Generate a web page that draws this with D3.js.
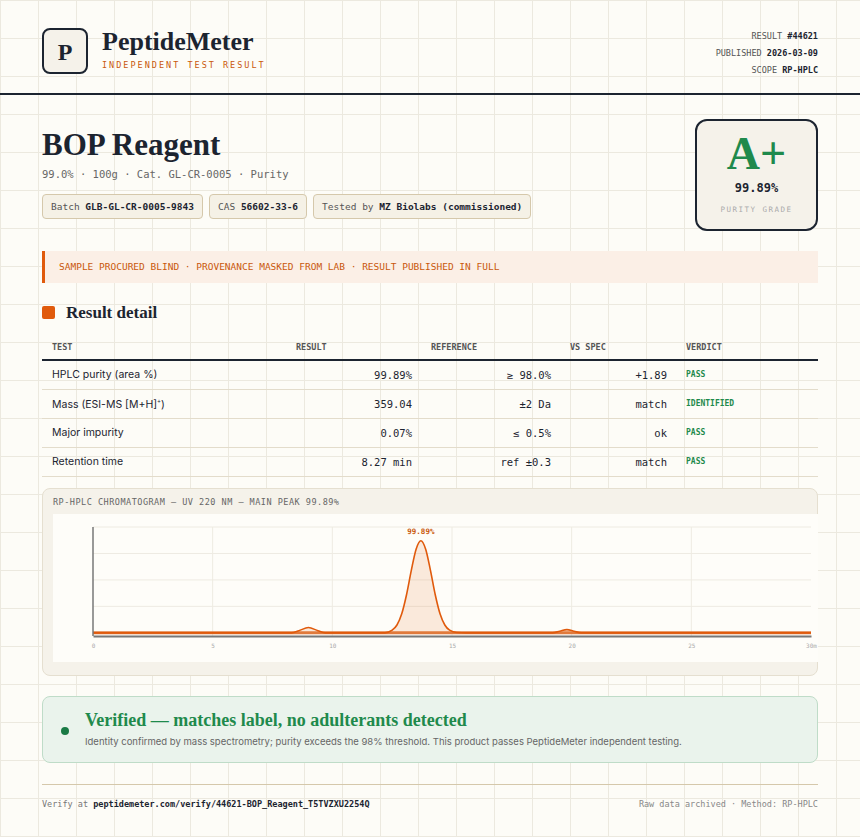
<!DOCTYPE html>
<html><head><meta charset="utf-8">
<script src="https://cdn.jsdelivr.net/npm/d3@7/dist/d3.min.js"></script>
<style>
body{margin:0;width:860px;height:837px;overflow:hidden;background:#fdfcf7;
 background-image:linear-gradient(#ece9df 1px,transparent 1px),linear-gradient(90deg,#ece9df 1px,transparent 1px);
 background-size:38px 38px;background-position:0 0;font-family:Inter,sans-serif;color:#1c2430;position:relative}
.abs{position:absolute}
.mono{font-family:"DejaVu Sans Mono",monospace}
.serif{font-family:"Liberation Serif",serif}
.logo{left:42px;top:28px;width:42px;height:42px;border:2px solid #1c2430;border-radius:8px;background:#f5f2ea;text-align:center;line-height:44px;font-size:24px;font-weight:bold}
.chip{display:inline-block;border:1px solid #d5c8ab;border-radius:4px;background:#f5f1e6;padding:6px 8px;font-size:9.5px;color:#555;margin-right:6px}
.chip b{color:#1c2430}
table{border-collapse:collapse;table-layout:fixed}
th,td{box-sizing:border-box}
th{font-family:"DejaVu Sans Mono",monospace;font-size:8.5px;font-weight:bold;color:#555;text-align:left;height:26px;padding:0 0 0 10px;border-bottom:2px solid #1c2430}
td{height:29px;border-bottom:1px solid #e3dccb;font-size:10.5px;padding:0 0 0 10px}
td.n{font-family:"DejaVu Sans Mono",monospace;text-align:right;padding-right:9px}
td.v{font-family:"DejaVu Sans Mono",monospace;font-size:8px;font-weight:bold;color:#1f8a4c}
</style></head><body>
<div class="abs logo serif">P</div>
<div class="abs serif" style="left:102px;top:27px;font-size:26px;font-weight:bold">PeptideMeter</div>
<div class="abs mono" style="left:102px;top:60px;font-size:8.5px;letter-spacing:2px;color:#c9580c">INDEPENDENT TEST RESULT</div>
<div class="abs mono" style="right:42px;top:28px;font-size:8.5px;line-height:17px;text-align:right;color:#555">
RESULT <b style="color:#1c2430">#44621</b><br>PUBLISHED <b style="color:#1c2430">2026-03-09</b><br>SCOPE <b style="color:#1c2430">RP-HPLC</b></div>
<div class="abs" style="left:0;top:93px;width:860px;height:2px;background:#1c2430"></div>
<div class="abs serif" style="left:42px;top:127px;font-size:31px;font-weight:bold">BOP Reagent</div>
<div class="abs mono" style="left:42px;top:168px;font-size:10.5px;color:#666">99.0% · 100g · Cat. GL-CR-0005 · Purity</div>
<div class="abs mono" style="left:42px;top:194px">
<span class="chip">Batch <b>GLB-GL-CR-0005-9843</b></span><span class="chip">CAS <b>56602-33-6</b></span><span class="chip">Tested by <b>MZ Biolabs (commissioned)</b></span></div>
<div class="abs" style="left:695px;top:119px;width:119px;height:108px;border:2px solid #1c2430;border-radius:12px;background:#f5f2ea;text-align:center">
<div class="serif" style="font-size:46px;font-weight:bold;color:#1f8a4c;margin-top:10px;line-height:46px">A+</div>
<div class="mono" style="font-size:12px;font-weight:bold;margin-top:4px">99.89%</div>
<div class="mono" style="font-size:7.5px;color:#aaa;letter-spacing:1.5px;margin-top:10px">PURITY GRADE</div></div>
<div class="abs mono" style="left:42px;top:251px;height:32px;border-left:3px solid #e05a0c;background:#fbefe6;color:#c9580c;font-size:9.5px;line-height:32px;padding-left:14px;box-sizing:border-box;width:776px">SAMPLE PROCURED BLIND · PROVENANCE MASKED FROM LAB · RESULT PUBLISHED IN FULL</div>
<div class="abs" style="left:42px;top:306px;width:13px;height:13px;border-radius:2px;background:#e05a0c"></div>
<div class="abs serif" style="left:66px;top:303px;font-size:17px;font-weight:bold">Result detail</div>
<table class="abs" id="tbl" style="left:42px;top:334px;width:776px"></table>
<div class="abs" style="left:42px;top:488px;width:774px;height:186px;border:1px solid #e5dfd0;border-radius:8px;background:#f5f2ea"></div>
<div class="abs mono" style="left:53px;top:497px;font-size:8.5px;color:#666;letter-spacing:0.5px">RP-HPLC CHROMATOGRAM — UV 220 NM — MAIN PEAK 99.89%</div>
<svg class="abs" id="chart" style="left:53px;top:514px" width="765" height="148"></svg>
<div class="abs" style="left:42px;top:696px;width:774px;height:65px;border:1px solid #bfdcc8;border-radius:8px;background:#eaf3ec"></div>
<div class="abs" style="left:61px;top:727px;width:8px;height:8px;border-radius:50%;background:#1a7a45"></div>
<div class="abs serif" style="left:85px;top:710px;font-size:18px;font-weight:bold;color:#1f8a4c">Verified — matches label, no adulterants detected</div>
<div class="abs" style="left:85px;top:736px;font-size:9.5px;color:#666">Identity confirmed by mass spectrometry; purity exceeds the 98% threshold. This product passes PeptideMeter independent testing.</div>
<div class="abs" style="left:42px;top:784px;width:776px;height:1px;background:#d5c8ab"></div>
<div class="abs mono" style="left:42px;top:799px;font-size:8.5px;color:#777">Verify at <b style="color:#1c2430">peptidemeter.com/verify/44621-BOP_Reagent_T5TVZXU2254Q</b></div>
<div class="abs mono" style="right:42px;top:799px;font-size:8.5px;color:#888">Raw data archived · Method: RP-HPLC</div>
<script>
const headers = ['TEST','RESULT','REFERENCE','VS SPEC','VERDICT']
const tests = ['HPLC purity (area %)','Mass (ESI-MS [M+H]<sup style="font-size:6px">+</sup>)','Major impurity','Retention time']
const results = ['99.89%','359.04','0.07%','8.27 min']
const refs = ['≥ 98.0%','±2 Da','≤ 0.5%','ref ±0.3']
const vsSpec = ['+1.89','match','ok','match']
const verdicts = ['PASS','IDENTIFIED','PASS','PASS']
const colW = [244,135,139,116,142]

const tbl = d3.select('#tbl')
tbl.append('tr').selectAll('th').data(headers).join('th').style('width',(d,i)=>colW[i]+'px').text(d=>d)
tests.forEach((t,i)=>{
  const tr = tbl.append('tr')
  tr.append('td').html(t)
  tr.append('td').attr('class','n').text(results[i])
  tr.append('td').attr('class','n').text(refs[i])
  tr.append('td').attr('class','n').text(vsSpec[i])
  tr.append('td').attr('class','v').text(verdicts[i])
})

// chromatogram samples (minutes, signal)
const times = [0,8.3,8.6,9.0,9.4,9.7,12.2,12.5,12.7,12.9,13.1,13.3,13.5,13.7,13.9,14.1,14.3,14.5,14.7,14.9,15.2,15.6,19.2,19.5,19.8,20.1,20.4,30]
const signal = [0,0,2,5,2,0,0,2.5,7.4,18,36,59,79,87,79,59,36,18,7.4,2.5,0.3,0,0,1.5,3,1.5,0,0]
const xTicks = [0,5,10,15,20,25,30]
const peakLabel = '99.89%'

const svg = d3.select('#chart').style('background','#fefdf9')
const m = {l:40,r:7,t:13,b:26}
const W = 765, H = 148
const x = d3.scaleLinear().domain([0,30]).range([m.l,W-m.r])
const y = d3.scaleLinear().domain([-3,100]).range([H-m.b,m.t])

svg.append('g').selectAll('line').data(xTicks.slice(1,-1)).join('line')
  .attr('x1',d=>x(d)).attr('x2',d=>x(d)).attr('y1',m.t).attr('y2',H-m.b).attr('stroke','#eeebe2')
svg.append('g').selectAll('line').data([25,50,75,100]).join('line')
  .attr('x1',m.l).attr('x2',W-m.r).attr('y1',d=>y(d)).attr('y2',d=>y(d)).attr('stroke','#eeebe2')

const pts = times.map((t,i)=>[t,signal[i]])
svg.append('path').datum(pts).attr('fill','#e05a0c').attr('fill-opacity',0.12)
  .attr('d',d3.area().x(d=>x(d[0])).y0(y(0)).y1(d=>y(d[1])).curve(d3.curveMonotoneX))
svg.append('line').attr('x1',m.l).attr('x2',W-m.r).attr('y1',y(0)).attr('y2',y(0)).attr('stroke','#e07a3c').attr('stroke-width',3)
svg.append('path').datum(pts).attr('fill','none').attr('stroke','#e05a0c').attr('stroke-width',1.6)
  .attr('d',d3.line().x(d=>x(d[0])).y(d=>y(d[1])).curve(d3.curveMonotoneX))

const ax = svg.append('g').attr('transform',`translate(0,${H-m.b})`)
  .call(d3.axisBottom(x).tickValues(xTicks).tickSize(0).tickPadding(8).tickFormat(d=>d===30?'30m':d))
ax.select('.domain').attr('stroke','#777').attr('stroke-width',2)
ax.selectAll('text').attr('fill','#aaa').attr('font-size',6).attr('font-family','DejaVu Sans Mono')
svg.append('line').attr('x1',m.l).attr('x2',m.l).attr('y1',m.t).attr('y2',H-m.b).attr('stroke','#777').attr('stroke-width',1.5)

svg.append('text').attr('x',x(13.7)).attr('y',y(87)-7).attr('text-anchor','middle')
  .attr('font-family','DejaVu Sans Mono').attr('font-size',7.5).attr('font-weight','bold').attr('fill','#c9580c').text(peakLabel)
</script>
</body></html>
